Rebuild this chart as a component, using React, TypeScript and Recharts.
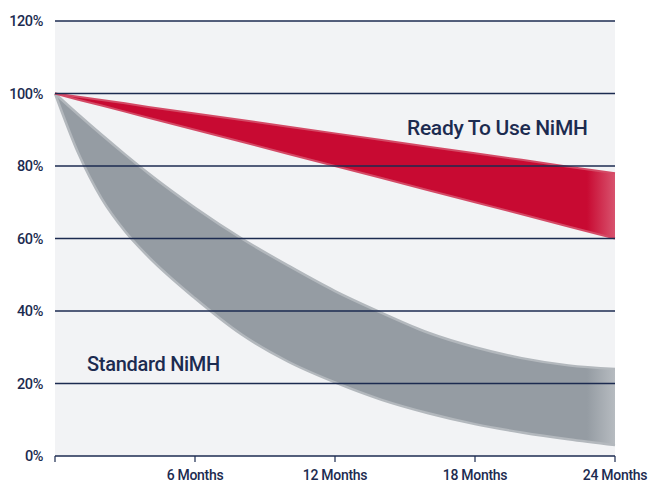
import { Area, CartesianGrid, ComposedChart, ReferenceLine, XAxis, YAxis } from "recharts";

const months = [0, 1, 2, 3, 4, 6, 8, 10, 12, 14, 16, 18, 20, 22, 24];
const standardHigh = [100, 94.2, 88.6, 83.2, 78, 68.5, 60, 52.5, 45.5, 39.5, 34, 30, 27, 25, 24];
const standardLow = [100, 83.5, 71, 62, 55, 43.5, 33.5, 26, 20.3, 15.5, 11.8, 8.8, 6.5, 4.6, 3];
const readyHigh = [100, 99.1, 98.2, 97.3, 96.3, 94.5, 92.7, 90.8, 89, 87.2, 85.3, 83.5, 81.7, 79.8, 78];
const readyLow = [100, 98.3, 96.7, 95, 93.3, 90, 86.7, 83.3, 80, 76.7, 73.3, 70, 66.7, 63.3, 60];

const xTicks = [0, 6, 12, 18, 24];
const yTicks = [0, 20, 40, 60, 80, 100, 120];

const data = months.map((m, i) => ({
  m,
  standard: [standardLow[i], standardHigh[i]],
  ready: [readyLow[i], readyHigh[i]],
}));

const NAVY = "#1c2b50";
const FONT = "Roboto, 'Liberation Sans', sans-serif";

export default function App() {
  return (
    <div style={{ position: "absolute", left: 0, top: 0, width: 649, height: 484, background: "#fff" }}>
      <ComposedChart
        width={649}
        height={484}
        data={data}
        margin={{ top: 21, right: 34, bottom: 0, left: 0 }}
        style={{ fontFamily: FONT }}
      >
        <defs>
          <linearGradient id="redFill" x1="0" y1="0" x2="1" y2="0">
            <stop offset="0%" stopColor="#c80a32" />
            <stop offset="95%" stopColor="#c80a32" />
            <stop offset="100%" stopColor="#d8536e" />
          </linearGradient>
          <linearGradient id="grayFill" x1="0" y1="0" x2="1" y2="0">
            <stop offset="0%" stopColor="#959ca3" />
            <stop offset="95%" stopColor="#959ca3" />
            <stop offset="100%" stopColor="#b6bbc0" />
          </linearGradient>
        </defs>
        <CartesianGrid fill="#f2f3f5" horizontal={false} vertical={false} />
        <XAxis
          dataKey="m"
          type="number"
          domain={[0, 24]}
          ticks={xTicks}
          tickFormatter={(v) => (v === 0 ? "" : `${v} Months`)}
          height={28}
          stroke={NAVY}
          tick={{ fill: NAVY, fontSize: 14, fontWeight: 500, letterSpacing: -0.3 }}
          tickSize={6}
          tickMargin={8}
          axisLine={{ stroke: NAVY, strokeWidth: 1.5 }}
          tickLine={{ stroke: NAVY, strokeWidth: 1.2 }}
        />
        <YAxis
          type="number"
          domain={[0, 120]}
          ticks={yTicks}
          tickFormatter={(v) => `${v}%`}
          width={55}
          axisLine={false}
          tickLine={false}
          tickMargin={6}
          tick={{ fill: NAVY, fontSize: 14.5, fontWeight: 500, letterSpacing: -0.4 }}
        />
        <Area
          type="monotone"
          dataKey="standard"
          fill="url(#grayFill)"
          fillOpacity={1}
          stroke="#b3b8bd"
          strokeWidth={2.5}
          isAnimationActive={false}
        />
        <Area
          type="linear"
          dataKey="ready"
          fill="url(#redFill)"
          fillOpacity={1}
          stroke="#d44a66"
          strokeWidth={2}
          isAnimationActive={false}
        />
        {yTicks.slice(1).map((t) => (
          <ReferenceLine key={t} y={t} stroke={NAVY} strokeWidth={1.4} />
        ))}
      </ComposedChart>
      <span
        style={{
          position: "absolute",
          left: 407,
          top: 116,
          fontFamily: FONT,
          fontSize: 21,
          fontWeight: 500,
          letterSpacing: -0.3,
          color: NAVY,
          whiteSpace: "nowrap",
        }}
      >
        Ready To Use NiMH
      </span>
      <span
        style={{
          position: "absolute",
          left: 87,
          top: 352,
          fontFamily: FONT,
          fontSize: 20,
          fontWeight: 500,
          letterSpacing: -0.3,
          color: NAVY,
          whiteSpace: "nowrap",
        }}
      >
        Standard NiMH
      </span>
    </div>
  );
}
